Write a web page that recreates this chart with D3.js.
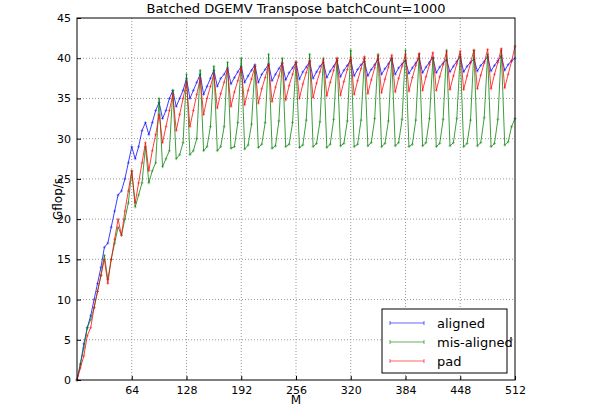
<!doctype html>
<html>
<head>
<meta charset="utf-8">
<script src="https://cdn.jsdelivr.net/npm/d3@7/dist/d3.min.js"></script>
<style>
	body{ margin:0; background:white; }
	svg text{ font-family: "DejaVu Sans", sans-serif; }
</style>
</head>
<body>
<svg id="chart" width="600" height="420"></svg>
<script>
	// M sampled every 4
	var step = 4;
	var aligned = [0,2,4.5,6.5,8,10,12,14,16.5,17,19,21,23,23.5,25,27,29,27.5,29,31,32,30.5,32,33.5,34.5,32.5,33.5,35,36,34,35,36,37.5,35,36,37,38,35.5,36.5,37.5,38.5,
		36.5,37.5,38,38.8, 36.8,37.6,38.3,39, 37,37.8,38.5,39.2, 37,38,38.6,39.3, 37.2,38,38.7,39.4,
		37.3,38.2,38.8,39.5, 37.4,38.3,38.9,39.6, 37.5,38.3,39,39.5, 37.6,38.4,39,39.7, 37.7,38.5,39.1,39.8,
		37.8,38.6,39.2,39.6, 37.8,38.6,39.2,39.9, 38,38.7,39.3,40, 38,38.8,39.3,39.7, 38.1,38.8,39.4,40,
		38.2,38.9,39.5,40.1, 38.2,38.9,39.4,39.8, 38.3,39,39.6,40.2, 38.3,39,39.5,39.9, 38.4,39.1,39.6,40.2,
		38.4,39.1,39.7,40.3, 38.5,39.2,39.7,40];
	var misaligned = [0,2,4,6.5,7.5,9,11,13,15.5,12.5,15,17,19,18,20,22,26,21.5,23,24.5,29,24.5,26,27,35,26.5,27.5,28.5,36,27.5,28,29.5,38,28,28.5,30,38.5,28.5,29,31.5,39,
		28.5,29,31.5,39.5, 28.8,29,32,40, 28.7,29.2,31.8,39, 28.9,29.3,32,40.5, 28.8,29.1,32.2,40,
		29,29.3,32,39.5, 28.9,29.2,32.3,40.5, 29,29.4,32.1,40, 28.9,29.3,32.4,40, 29.1,29.4,32.2,41,
		29,29.3,32.3,40, 29.1,29.5,32.5,40.5, 29,29.4,32.2,40, 29.1,29.5,32.4,41, 29,29.3,32.3,40.5,
		29.1,29.5,32.5,40, 29,29.4,32.4,41, 29.1,29.5,32.5,40.5, 29,29.4,32.3,41, 29.1,29.5,32.6,40.5,
		29,29.4,32.4,41, 29.2,29.6,31.5,32.5];
	var pad = [0,1.5,3,5.5,6.5,9,11,13,15,12,15,17.5,20,18,21,23.5,26,22,24.5,27,29.5,26,28.5,30.5,33,29.5,31.5,33.5,35.5,31,33,35,37,31.5,33.5,35.5,37.5,33,35,36.5,38,
		33.8,35.6,37,38.6, 34,35.8,37.2,38.8, 34.2,36,37.4,39, 34.4,36.2,37.6,39.2, 34.6,36.4,37.8,39.4,
		34.8,36.6,38,39.5, 35,36.8,38.2,39.7, 35.1,36.9,38.3,39.8, 35.3,37,38.5,40, 35.4,37.1,38.6,40.1,
		35.5,37.2,38.7,40.2, 35.6,37.3,38.8,40.3, 35.7,37.4,38.9,40.4, 35.8,37.5,39,40.5, 35.9,37.6,39.1,40.6,
		36,37.7,39.2,40.7, 36,37.7,39.2,40.8, 36.1,37.8,39.3,40.9, 36.1,37.8,39.4,41, 36.2,37.9,39.4,41.1,
		36.2,38,39.5,41.2, 36.3,38,39.6,41.5];
	var xTicks = [64,128,192,256,320,384,448,512];
	var yTicks = [0,5,10,15,20,25,30,35,40,45];
	var series = [
		{name:"aligned", values:aligned, color:"#0000ff"},
		{name:"mis-aligned", values:misaligned, color:"#008000"},
		{name:"pad", values:pad, color:"#ff0000"}
	];

	var svg = d3.select("#chart");
	var pLeft = 77, pRight = 515, pTop = 18, pBottom = 380;
	var x = d3.scaleLinear().domain([0,512]).range([pLeft,pRight]);
	var y = d3.scaleLinear().domain([0,45]).range([pBottom,pTop]);

	// grid
	svg.append("g").selectAll("line").data(xTicks.slice(0,-1)).join("line")
		.attr("x1", d => x(d)).attr("x2", d => x(d)).attr("y1", pTop).attr("y2", pBottom)
		.attr("stroke", "#999").attr("stroke-dasharray", "1,2");
	svg.append("g").selectAll("line").data(yTicks.slice(1,-1)).join("line")
		.attr("x1", pLeft).attr("x2", pRight).attr("y1", d => y(d)).attr("y2", d => y(d))
		.attr("stroke", "#999").attr("stroke-dasharray", "1,2");

	var line = d3.line().x((d,i) => x(i*step)).y(d => y(d));
	series.forEach(function(s){
		var g = svg.append("g");
		g.append("path").datum(s.values).attr("d", line)
			.attr("fill","none").attr("stroke", s.color).attr("stroke-width", 0.9).attr("opacity",0.85);
		g.selectAll("path.m").data(s.values).join("path").attr("class","m")
			.attr("d", (d,i) => "M"+(x(i*step)-1.5)+","+y(d)+"h3M"+x(i*step)+","+(y(d)-1.5)+"v3")
			.attr("stroke", s.color).attr("stroke-width", 0.7).attr("opacity",0.6);
	});

	var xAxis = svg.append("g").attr("transform","translate(0,"+pBottom+")")
		.call(d3.axisBottom(x).tickValues(xTicks).tickSize(-4).tickPadding(6));
	var yAxis = svg.append("g").attr("transform","translate("+pLeft+",0)")
		.call(d3.axisLeft(y).tickValues(yTicks).tickSize(-4).tickPadding(6));
	[xAxis,yAxis].forEach(a => { a.select(".domain").remove(); a.selectAll("text").attr("font-size",11).attr("fill","#000"); a.selectAll("line").attr("stroke","#000"); });

	svg.append("rect").attr("x",pLeft).attr("y",pTop).attr("width",pRight-pLeft).attr("height",pBottom-pTop)
		.attr("fill","none").attr("stroke","#000");

	svg.append("text").attr("x",(pLeft+pRight)/2).attr("y",13).attr("text-anchor","middle")
		.attr("font-size",13).text("Batched DGEMV Transpose batchCount=1000");
	svg.append("text").attr("x",(pLeft+pRight)/2).attr("y",404).attr("text-anchor","middle")
		.attr("font-size",12).text("M");
	svg.append("text").attr("transform","translate(62,"+((pTop+pBottom)/2)+") rotate(-90)")
		.attr("text-anchor","middle").attr("font-size",12).text("Gflop/s");

	// legend
	var lg = svg.append("g").attr("transform","translate(382,309)");
	lg.append("rect").attr("width",125).attr("height",64).attr("fill","white").attr("stroke","#000");
	series.forEach(function(s,i){
		var yy = 14 + i*19;
		lg.append("line").attr("x1",8).attr("x2",42).attr("y1",yy).attr("y2",yy).attr("stroke",s.color).attr("opacity",0.6);
		lg.append("path").attr("d","M8,"+(yy-2)+"v4M42,"+(yy-2)+"v4").attr("stroke",s.color).attr("opacity",0.6);
		lg.append("text").attr("x",55).attr("y",yy+5).attr("font-size",13).text(s.name);
	});
</script>
</body>
</html>
